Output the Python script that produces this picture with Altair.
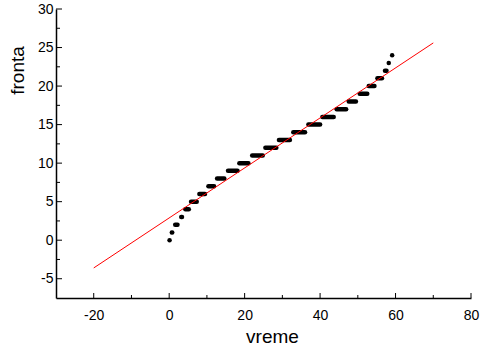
import altair as alt
import pandas as pd

# queue length levels and the time span over which each level was observed
levels = list(range(25))
x_start = [0.1, 0.7, 1.6, 3.2, 4.3, 5.8, 8.0, 10.4, 12.7, 15.6, 18.6, 22.0, 25.5,
           29.1, 32.9, 36.9, 40.6, 44.4, 47.6, 50.5, 52.9, 55.2, 57.2, 58.2, 59.1]
x_end = [0.1, 0.8, 2.2, 3.4, 5.2, 7.3, 9.5, 11.9, 14.6, 18.1, 21.0, 24.8, 28.4,
         32.0, 36.0, 40.0, 43.6, 46.9, 49.5, 52.5, 54.4, 56.4, 57.6, 58.2, 59.1]

# fitted line end points
line_x = [-20, 70]
line_y = [-3.6, 25.6]

# axis ticks
x_major = [-20, 0, 20, 40, 60, 80]
x_minor = [-10, 10, 30, 50, 70]
y_major = [-5, 0, 5, 10, 15, 20, 25, 30]
y_minor = [-2.5, 2.5, 7.5, 12.5, 17.5, 22.5, 27.5]

W, H = 415, 289
FONT = "Liberation Sans"

steps_df = pd.DataFrame({"y": levels, "x0": x_start, "x1": x_end})
line_df = pd.DataFrame({"x": line_x, "y": line_y})

xs = alt.Scale(domain=[-30, 80], nice=False, zero=False)
ys = alt.Scale(domain=[-7.5, 30], nice=False, zero=False)

x_axis = alt.Axis(values=x_major, ticks=False, grid=False, title="vreme",
                  labelPadding=10, titleX=216, titleY=44, labelFlush=False,
                  labelOverlap=False, labelExpr="'' + datum.value",
                  titleBaseline="alphabetic", titleAlign="center")
y_axis = alt.Axis(values=y_major, ticks=False, grid=False, title="fronta",
                  labelPadding=3, titleX=-33, titleY=61, titleAngle=270,
                  labelFlush=False, labelOverlap=False, labelExpr="'' + datum.value",
                  titleAlign="center", titleBaseline="alphabetic")

steps = alt.Chart(steps_df).mark_rule(color="black", strokeWidth=4.5, strokeCap="round").encode(
    x=alt.X("x0:Q", scale=xs, axis=x_axis),
    x2="x1:Q",
    y=alt.Y("y:Q", scale=ys, axis=y_axis),
)

fit = alt.Chart(line_df).mark_line(color="#ff0000", strokeWidth=1).encode(
    x=alt.X("x:Q", scale=xs, axis=x_axis),
    y=alt.Y("y:Q", scale=ys, axis=y_axis),
)

def xticks(vals, length):
    return alt.Chart(pd.DataFrame({"v": vals})).mark_rule(color="black", strokeWidth=1).encode(
        x=alt.X("v:Q", scale=xs, axis=x_axis),
        y=alt.value(H), y2=alt.value(H - length),
    )

def yticks(vals, length):
    return alt.Chart(pd.DataFrame({"v": vals})).mark_rule(color="black", strokeWidth=1).encode(
        y=alt.Y("v:Q", scale=ys, axis=y_axis),
        x=alt.value(0), x2=alt.value(length),
    )

chart = alt.layer(
    steps, fit,
    xticks(x_major, 5), xticks(x_minor, 3),
    yticks(y_major, 6), yticks(y_minor, 4),
).properties(
    width=W, height=H,
    background="white",
    autosize=alt.AutoSizeParams(type="none"),
    padding={"left": 56, "top": 9, "right": 9, "bottom": 49},
).configure_view(stroke=None).configure_axis(
    domainColor="black", domainWidth=1.5, labelColor="black", titleColor="black",
    labelFont=FONT, titleFont=FONT, labelFontSize=14, titleFontSize=19,
    titleFontWeight="normal",
)

chart.save("out.html", embed_options={"renderer": "svg", "actions": False})
